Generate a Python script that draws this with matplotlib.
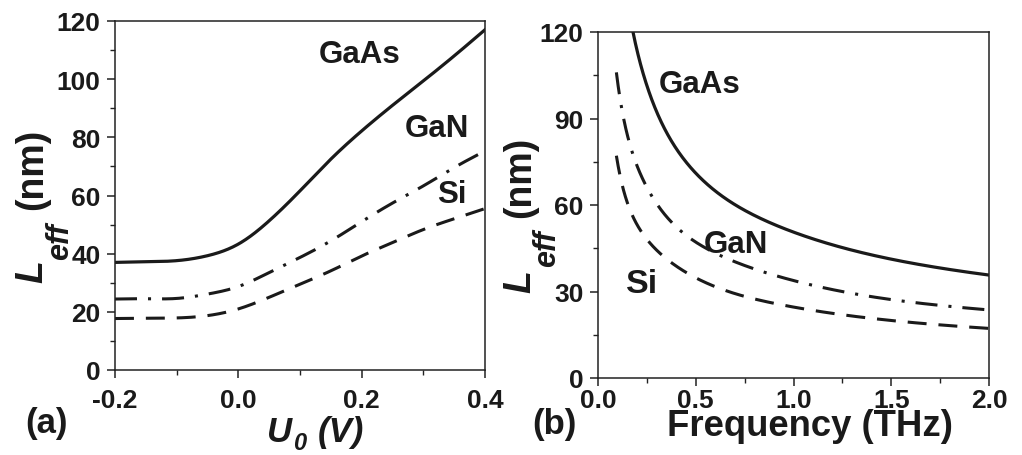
import numpy as np
import matplotlib
matplotlib.use("Agg")
import matplotlib.pyplot as plt
from matplotlib.ticker import MultipleLocator

plt.rcParams['font.family'] = ['Liberation Sans', 'DejaVu Sans']
plt.rcParams['font.weight'] = 'bold'

# Panel (a): L_eff (nm) vs U0 (V)
u0 = [-0.2, -0.15, -0.1, -0.05, 0.0, 0.05, 0.1, 0.15, 0.2, 0.25, 0.3, 0.35, 0.4]
a_gaas = [37.0, 37.2, 37.6, 39.3, 43.3, 51.3, 61.6, 72.5, 82.2, 91.0, 99.4, 108.0, 117.0]
a_gan = [24.4, 24.5, 24.6, 26.1, 28.7, 33.5, 38.7, 44.4, 51.0, 57.4, 63.3, 69.6, 75.3]
a_si = [17.7, 17.8, 17.9, 18.7, 21.0, 25.0, 29.5, 34.1, 39.2, 43.8, 48.3, 52.0, 55.5]

# Panel (b): L_eff (nm) vs frequency (THz)
f_gaas = [0.179, 0.256, 0.341, 0.512, 0.682, 1.0, 1.494, 2.0]
b_gaas = [120.0, 100.2, 86.4, 70.2, 60.9, 50.6, 41.3, 35.7]
f_gan = [0.094, 0.153, 0.264, 0.443, 0.665, 1.0, 1.5, 2.0]
b_gan = [106.0, 83.5, 64.4, 49.9, 41.3, 33.8, 27.2, 23.6]
f_si = [0.094, 0.162, 0.256, 0.409, 0.75, 1.0, 1.45, 2.0]
b_si = [77.1, 58.6, 47.6, 38.4, 28.3, 24.6, 20.3, 17.2]

W, H = 1022, 456
fig = plt.figure(figsize=(W / 100, H / 100), dpi=100)
ax1 = fig.add_axes([115 / W, 1 - 371 / H, 370 / W, 349 / H])
ax2 = fig.add_axes([598 / W, 1 - 379 / H, 391 / W, 346 / H])


def spline(x, y, n=400, log=False):
    """Natural cubic spline through the read points (drawing only)."""
    x = np.asarray(x, float)
    y = np.asarray(y, float)
    if log:
        x, y = np.log(x), np.log(y)
    h = np.diff(x)
    k = len(x)
    A = np.zeros((k, k))
    r = np.zeros(k)
    A[0, 0] = A[-1, -1] = 1
    for i in range(1, k - 1):
        A[i, i - 1] = h[i - 1]
        A[i, i] = 2 * (h[i - 1] + h[i])
        A[i, i + 1] = h[i]
        r[i] = 6 * ((y[i + 1] - y[i]) / h[i] - (y[i] - y[i - 1]) / h[i - 1])
    M = np.linalg.solve(A, r)
    xs = np.linspace(x[0], x[-1], n)
    j = np.clip(np.searchsorted(x, xs) - 1, 0, k - 2)
    t0 = x[j + 1] - xs
    t1 = xs - x[j]
    ys = (M[j] * t0 ** 3 + M[j + 1] * t1 ** 3) / (6 * h[j]) \
        + (y[j] / h[j] - M[j] * h[j] / 6) * t0 + (y[j + 1] / h[j] - M[j + 1] * h[j] / 6) * t1
    if log:
        return np.exp(xs), np.exp(ys)
    return xs, ys


col = '#1a1a1a'
dash = (0, (6.2, 3.9))
dashdot = (0, (7.2, 3.6, 1.0, 3.6))

ax1.plot(*spline(u0, a_gaas), color=col, lw=2.3)
ax1.plot(*spline(u0, a_gan), color=col, lw=2.2, linestyle=dashdot)
ax1.plot(*spline(u0, a_si), color=col, lw=2.2, linestyle=dash)

ax2.plot(*spline(f_gaas, b_gaas, log=True), color=col, lw=2.3)
ax2.plot(*spline(f_gan, b_gan, log=True), color=col, lw=2.2, linestyle=dashdot)
ax2.plot(*spline(f_si, b_si, log=True), color=col, lw=2.2, linestyle=dash)

ax1.set_xlim(-0.2, 0.4)
ax1.set_ylim(0, 120)
ax1.xaxis.set_minor_locator(MultipleLocator(0.1))
ax1.yaxis.set_major_locator(MultipleLocator(20))
ax1.yaxis.set_minor_locator(MultipleLocator(10))
ax1.set_xticks([-0.2, 0.0, 0.2, 0.4])
ax1.set_xticklabels(['-0.2', '0.0', '0.2', '0.4'])

ax2.set_xlim(0, 2.0)
ax2.set_ylim(0, 120)
ax2.xaxis.set_minor_locator(MultipleLocator(0.25))
ax2.yaxis.set_major_locator(MultipleLocator(30))
ax2.yaxis.set_minor_locator(MultipleLocator(15))
ax2.set_xticks([0.0, 0.5, 1.0, 1.5, 2.0])
ax2.set_xticklabels(['0.0', '0.5', '1.0', '1.5', '2.0'])

for ax in (ax1, ax2):
    for s in ax.spines.values():
        s.set_linewidth(1.1)
        s.set_color('#222222')
    ax.tick_params(which='major', direction='out', length=6, width=1.1,
                   labelsize=19, colors='#222222')
    ax.tick_params(which='minor', direction='out', length=3.5, width=1.0, colors='#222222')
    ax.tick_params(top=False, right=False, which='both')
    ax.tick_params(axis='y', pad=4.5)
    for lab in ax.get_xticklabels() + ax.get_yticklabels():
        lab.set_fontweight('bold')
        lab.set_color(col)
ax1.tick_params(axis='x', pad=7)
ax2.tick_params(axis='x', pad=1.5)


def ftext(px, py, s, **kw):
    kw.setdefault('color', col)
    kw.setdefault('fontweight', 'bold')
    return fig.text(px / W, 1 - py / H, s, **kw)


def ylab(xb, yL, xsub, ysub, ynm):
    rot = dict(rotation=90, rotation_mode='anchor', ha='left', va='baseline')
    ftext(xb, yL, 'L', fontsize=27, fontstyle='italic', **rot)
    ftext(xsub, ysub, 'eff', fontsize=22, fontstyle='italic', **rot)
    ftext(xb, ynm, '(nm)', fontsize=27, **rot)


ylab(42, 283, 68, 260, 210)
ylab(530, 293, 555, 267, 218)

# x label (a): U0 (V)
ftext(267, 442, 'U', fontsize=25, fontstyle='italic', ha='left', va='baseline')
ftext(293, 450, '0', fontsize=17, fontstyle='italic', ha='left', va='baseline')
ftext(318, 442, '(V)', fontsize=25, fontstyle='italic', ha='left', va='baseline')

# x label (b)
ftext(810, 436, 'Frequency (THz)', fontsize=26.3, ha='center', va='baseline')

# panel tags
ftext(46.5, 433, '(a)', fontsize=25, ha='center', va='baseline')
ftext(554.5, 434, '(b)', fontsize=25, ha='center', va='baseline')

# curve annotations
ax1.text(0.197, 105.9, 'GaAs', fontsize=22.5, fontweight='bold', ha='center', va='baseline', color=col)
ax1.text(0.322, 80.5, 'GaN', fontsize=22.5, fontweight='bold', ha='center', va='baseline', color=col)
ax1.text(0.346, 57.8, 'Si', fontsize=22.5, fontweight='bold', ha='center', va='baseline', color=col)

ax2.text(0.522, 99.2, 'GaAs', fontsize=22.5, fontweight='bold', ha='center', va='baseline', color=col)
ax2.text(0.706, 43.7, 'GaN', fontsize=22.5, fontweight='bold', ha='center', va='baseline', color=col)
ax2.text(0.225, 29.8, 'Si', fontsize=24.5, fontweight='bold', ha='center', va='baseline', color=col)

fig.savefig('out.png', dpi=100)
